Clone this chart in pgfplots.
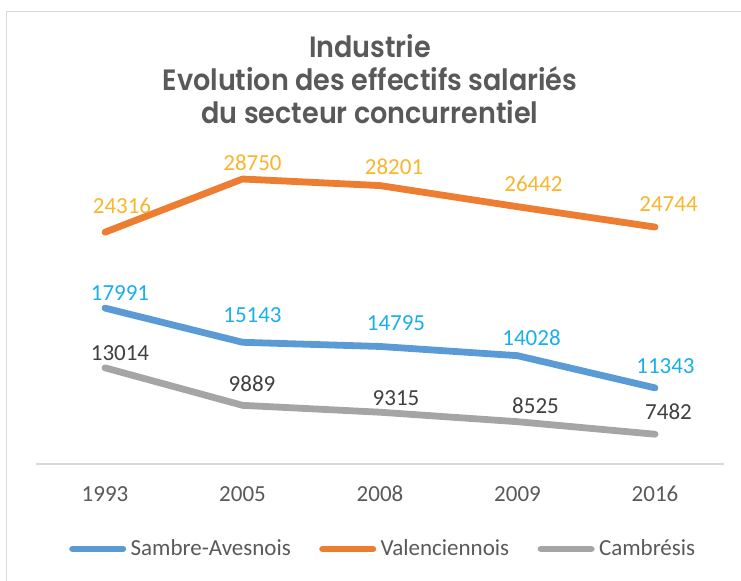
\documentclass[border=0pt]{standalone}
\usepackage{fontspec}
\setmainfont{Carlito}
\newfontfamily\titlefont{Poppins}[FakeStretch=0.92, BoldFont={Poppins SemiBold}]
\usepackage{pgfplots}
\usepackage{pgfplotstable}
\pgfplotsset{compat=1.18}
\definecolor{cOrange}{HTML}{ED7D31}
\definecolor{cBlue}{HTML}{5B9BD5}
\definecolor{cGray}{HTML}{A5A5A5}
\definecolor{cOrangeLab}{HTML}{F9B52B}
\definecolor{cBlueLab}{HTML}{1BAFEA}
\definecolor{cGrayLab}{HTML}{404040}
\definecolor{cTick}{HTML}{595959}
\definecolor{cTitle}{HTML}{595959}
\definecolor{cBase}{HTML}{D9D9D9}
\definecolor{cBorder}{HTML}{D9D9D9}

\pgfplotstableread{
x y dx dy lab
0 17991 7.5 7.5 17991
1 15143 5 13.5 15143
2 14795 8 11.5 14795
3 14028 7 9 14028
4 11343 5.25 11 11343
}\sambre

\pgfplotstableread{
x y dx dy lab
0 24316 8.5 13 24316
1 28750 5 8 28750
2 28201 7 9.5 28201
3 26442 8 11.5 26442
4 24744 6.75 11.5 24744
}\valenc

\pgfplotstableread{
x y dx dy lab
0 13014 7.5 7.5 13014
1 9889 4.75 11 9889
2 9315 8 7 9315
3 8525 9 8 8525
4 7482 6.75 11.25 7482
}\cambre

\begin{document}
\begin{tikzpicture}
\begin{axis}[
  name=ax, at={(0,0)}, anchor=south west,
  scale only axis, width=343.75pt, height=150pt,
  xmin=-0.5, xmax=4.5, ymin=5000, ymax=30000,
  axis y line=none, axis x line*=bottom,
  axis line style={draw=cBase, line width=1pt},
  xtick={0,1,2,3,4},
  xticklabels={\textnormal{1993},\textnormal{2005},\textnormal{2008},\textnormal{2009},\textnormal{2016}},
  ytick=\empty,
  major tick length=0pt,
  xticklabel style={font=\fontsize{11.5}{13}\selectfont, text=cTick, anchor=center, yshift=-15pt},
  clip=false,
  title={Industrie\\Evolution des effectifs salariés\\du secteur concurrentiel},
  title style={font=\titlefont\bfseries\fontsize{14.7}{16.5}\selectfont, text=cTitle, align=center,
    at={(0.5,1)}, anchor=north, yshift=59pt, xshift=-5pt, inner sep=0pt},
  nodes near coords,
  point meta=explicit symbolic,
  visualization depends on={\thisrow{dx} \as \dx},
  visualization depends on={\thisrow{dy} \as \dy},
  every node near coord/.append style={anchor=center, xshift=\dx*1pt, yshift=\dy*1pt,
    font=\fontsize{11.5}{13}\selectfont, inner sep=0pt},
  legend columns=-1,
  legend image code/.code={\draw[#1, line width=3.4pt, line cap=round] (1.7pt,0pt) -- (26.8pt,0pt); \path (0pt,-2pt) (28.5pt,2pt);},
  legend style={at={(0.5,0)}, anchor=center, yshift=-42.5pt, xshift=0.5pt, draw=none, fill=none,
    font=\fontsize{11.5}{13}\selectfont, text=cTick, inner sep=0pt,
    nodes={inner sep=0.5pt},
    /tikz/every even column/.append style={column sep=12pt}},
]
\addplot[cBlue, line width=3.4pt, line cap=round, line join=round, mark=none,
  every node near coord/.append style={text=cBlueLab}]
  table[x=x, y=y, meta=lab]{\sambre};
\addlegendentry{Sambre-Avesnois}
\addplot[cOrange, line width=3.4pt, line cap=round, line join=round, mark=none,
  every node near coord/.append style={text=cOrangeLab}]
  table[x=x, y=y, meta=lab]{\valenc};
\addlegendentry{Valenciennois}
\addplot[cGray, line width=3.4pt, line cap=round, line join=round, mark=none,
  every node near coord/.append style={text=cGrayLab}]
  table[x=x, y=y, meta=lab]{\cambre};
\addlegendentry{Cambrésis}
\end{axis}
\pgfresetboundingbox
\useasboundingbox ([shift={(-18.125pt,-58pt)}]ax.south west) rectangle ([shift={(352.375pt,232pt)}]ax.south west);
\draw[cBorder, line width=0.75pt] ([shift={(-14.875pt,-70pt)}]ax.south west) -- ([shift={(-14.875pt,226.25pt)}]ax.south west) -- ([shift={(370pt,226.25pt)}]ax.south west);
\end{tikzpicture}
\end{document}
